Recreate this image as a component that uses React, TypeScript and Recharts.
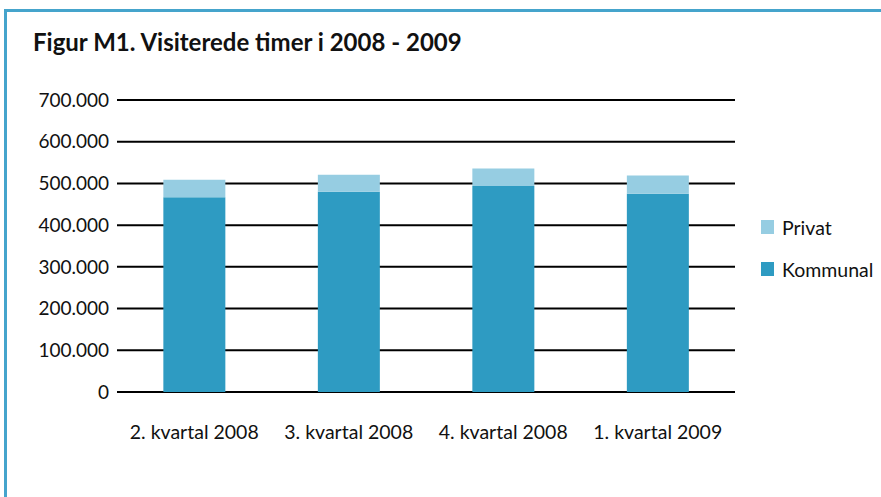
import React from 'react'
import { BarChart, Bar, XAxis, YAxis, CartesianGrid } from 'recharts'

// ── Data ──────────────────────────────────────────────────────────────────────

const KVARTALER = ['2. kvartal 2008', '3. kvartal 2008', '4. kvartal 2008', '1. kvartal 2009']
const KOMMUNAL = [467000, 480000, 494000, 475000]
const PRIVAT = [42000, 41000, 42000, 44000]
const Y_TICKS = [0, 100000, 200000, 300000, 400000, 500000, 600000, 700000]

const C_KOM = '#2e9bc2'
const C_PRIV = '#96cde2'
const FONT = 'Lato, "Open Sans", sans-serif'

const rows = KVARTALER.map((name, i) => ({ name, Kommunal: KOMMUNAL[i], Privat: PRIVAT[i] }))

const fmt = (v: number) => String(v).replace(/\B(?=(\d{3})+(?!\d))/g, '.')

function LegendBox() {
  const items = [
    { label: 'Privat', color: C_PRIV },
    { label: 'Kommunal', color: C_KOM },
  ]
  return (
    <div style={{ position: 'absolute', left: 761, top: 216, fontFamily: FONT, fontSize: 19.5, color: '#111' }}>
      {items.map(it => (
        <div key={it.label} style={{ display: 'flex', alignItems: 'center', height: 22, marginBottom: 20 }}>
          <span style={{ width: 13, height: 14, background: it.color, display: 'inline-block', marginRight: 8 }} />
          {it.label}
        </div>
      ))}
    </div>
  )
}

export default function App() {
  return (
    <div style={{ position: 'fixed', left: 0, top: 0, width: 881, height: 497, background: '#fff', overflow: 'hidden' }}>
      {/* frame */}
      <div style={{
        position: 'absolute', left: 4, top: 9, width: 880, height: 500,
        borderTop: '3px solid #45a4cc', borderLeft: '3px solid #45a4cc',
      }} />
      <div style={{
        position: 'absolute', left: 33, top: 27, fontFamily: FONT, fontWeight: 700,
        fontSize: 24, color: '#111',
      }}>
        Figur M1. Visiterede timer i 2008 - 2009
      </div>
      <div style={{ position: 'absolute', left: 0, top: 0 }}>
        <BarChart width={881} height={497} data={rows}
          margin={{ top: 100, right: 146, bottom: 75, left: 0 }} barCategoryGap="30%">
          <CartesianGrid horizontal vertical={false} stroke="#000" strokeWidth={2} />
          <XAxis dataKey="name" axisLine={false} tickLine={false} interval={0}
            tickMargin={27} tick={{ fontSize: 19.5, fill: '#111', fontFamily: FONT }} />
          <YAxis width={117} domain={[0, 700000]} ticks={Y_TICKS} tickFormatter={fmt}
            axisLine={false} tickLine={false} tickMargin={2} interval={0}
            tick={{ fontSize: 19, fill: '#111', fontFamily: FONT }} />
          <Bar dataKey="Kommunal" stackId="a" fill={C_KOM} isAnimationActive={false} />
          <Bar dataKey="Privat" stackId="a" fill={C_PRIV} isAnimationActive={false} />
        </BarChart>
      </div>
      <LegendBox />
    </div>
  )
}
